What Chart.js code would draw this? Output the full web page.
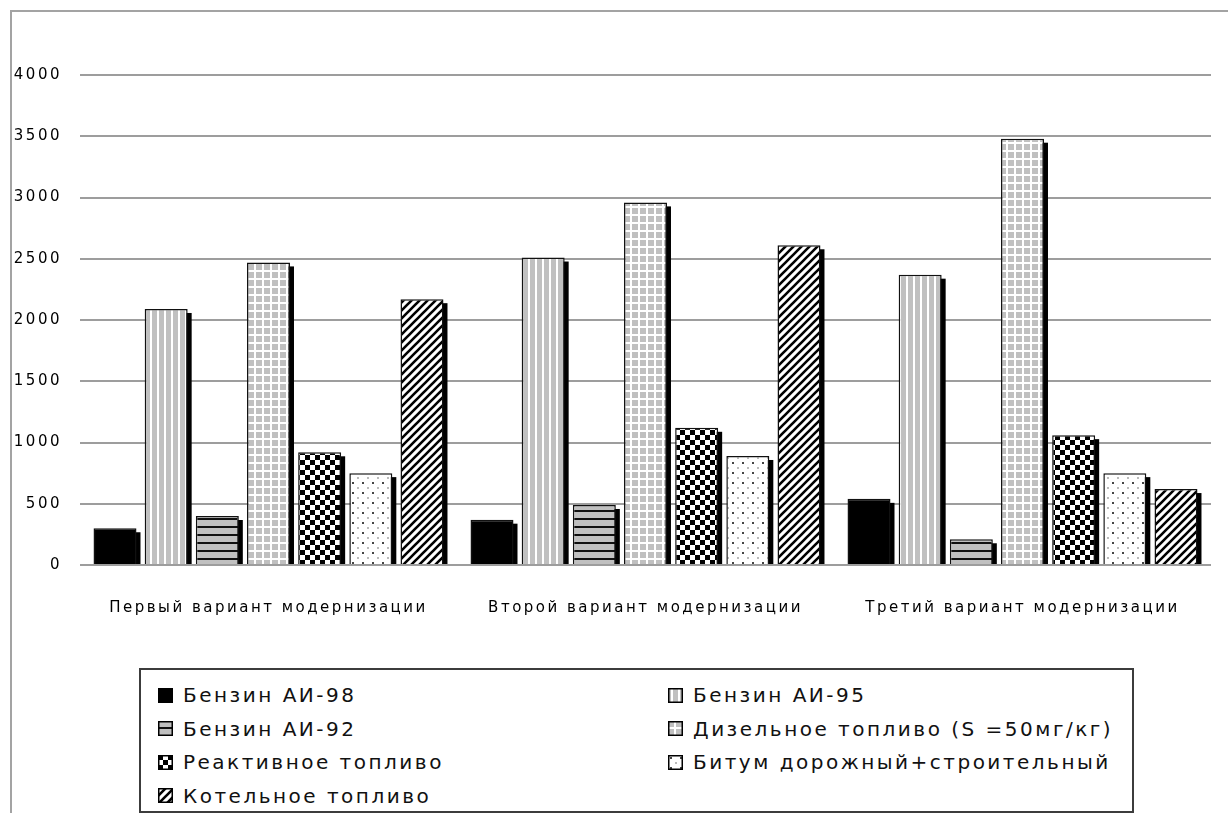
<!DOCTYPE html>
<html>
<head>
<meta charset="utf-8">
<script src="https://cdn.jsdelivr.net/npm/chart.js@4.4.1/dist/chart.umd.min.js"></script>
<style>
  html, body { margin: 0; padding: 0; background: #fff; overflow: hidden; }
  #frame { position: absolute; left: 10px; top: 10px; width: 1300px; height: 900px;
           border-top: 2px solid #a3a3a3; border-left: 2px solid #a3a3a3; }
  #chart { position: absolute; left: 0; top: 0; }
  #legend { position: absolute; left: 139px; top: 668px; width: 991px; height: 141px;
            border: 2px solid #3c3c3c; background: #fff; }
  .item { position: absolute; height: 30px; display: flex; align-items: center;
          font-family: "DejaVu Sans", sans-serif; font-size: 20px; letter-spacing: 2.5px; color: #111; }
  .item canvas { margin-right: 10px; }
</style>
</head>
<body>
<div id="frame"></div>
<canvas id="chart" width="1228" height="813"></canvas>
<div id="legend"></div>
<script>
const categories = ['Первый вариант модернизации', 'Второй вариант модернизации', 'Третий вариант модернизации'];
const seriesNames = [
  'Бензин АИ-98',
  'Бензин АИ-95',
  'Бензин АИ-92',
  'Дизельное топливо (S =50мг/кг)',
  'Реактивное топливо',
  'Битум дорожный+строительный',
  'Котельное топливо'
];
const ai98 = [300, 370, 540];
const ai95 = [2090, 2510, 2370];
const ai92 = [400, 490, 210];
const diesel = [2470, 2960, 3480];
const jetFuel = [920, 1120, 1060];
const bitumen = [750, 890, 750];
const boilerFuel = [2170, 2610, 620];
const yTicks = [0, 500, 1000, 1500, 2000, 2500, 3000, 3500, 4000];

const seriesValues = [ai98, ai95, ai92, diesel, jetFuel, bitumen, boilerFuel];
const patternKinds = ['solid', 'vstripe', 'hstripe', 'grid', 'check', 'dots', 'diag'];

// tiles for the black-and-white hatch fills
function makeTile(kind) {
  const t = document.createElement('canvas');
  const g = t.getContext('2d');
  const gray = '#c0c0c0';
  if (kind === 'solid') {
    t.width = t.height = 4; g.fillStyle = '#000'; g.fillRect(0, 0, 4, 4);
  } else if (kind === 'vstripe') {
    t.width = 7; t.height = 4;
    g.fillStyle = gray; g.fillRect(0, 0, 7, 4);
    g.fillStyle = '#fff'; g.fillRect(3, 0, 2, 4);
  } else if (kind === 'hstripe') {
    t.width = 4; t.height = 8;
    g.fillStyle = gray; g.fillRect(0, 0, 4, 8);
    g.fillStyle = '#111'; g.fillRect(0, 6, 4, 2);
  } else if (kind === 'grid') {
    t.width = t.height = 8;
    g.fillStyle = '#fff'; g.fillRect(0, 0, 8, 8);
    g.fillStyle = gray; g.fillRect(0, 0, 6, 6);
  } else if (kind === 'check') {
    t.width = t.height = 10;
    g.fillStyle = '#fff'; g.fillRect(0, 0, 10, 10);
    g.fillStyle = '#000'; g.fillRect(0, 0, 5, 5); g.fillRect(5, 5, 5, 5);
  } else if (kind === 'dots') {
    t.width = t.height = 10;
    g.fillStyle = '#fff'; g.fillRect(0, 0, 10, 10);
    g.fillStyle = '#444'; g.fillRect(2, 2, 2, 2);
    g.fillStyle = '#bbb'; g.fillRect(7, 7, 2, 2);
  } else if (kind === 'diag') {
    t.width = t.height = 8;
    g.fillStyle = '#fff'; g.fillRect(0, 0, 8, 8);
    g.strokeStyle = '#000'; g.lineWidth = 2.6;
    g.beginPath();
    g.moveTo(-2, 10); g.lineTo(10, -2);
    g.moveTo(-6, 6); g.lineTo(6, -6);
    g.moveTo(2, 14); g.lineTo(14, 2);
    g.stroke();
  }
  return t;
}

const ctx = document.getElementById('chart').getContext('2d');
const fills = patternKinds.map(k => ctx.createPattern(makeTile(k), 'repeat'));

// black drop shadow behind every bar, taken from the bar elements themselves
const barShadow = {
  id: 'barShadow',
  beforeDatasetsDraw(chart) {
    const c = chart.ctx;
    const off = 4;
    c.save();
    c.fillStyle = '#000';
    chart.getSortedVisibleDatasetMetas().forEach(meta => {
      meta.data.forEach(bar => {
        const p = bar.getProps(['x', 'y', 'base', 'width'], true);
        c.fillRect(p.x - p.width / 2 + off, p.y + off, p.width, p.base - p.y - off);
      });
    });
    c.restore();
  }
};

const spacing = {
  id: 'spacing',
  beforeUpdate(chart) { chart.ctx.letterSpacing = '2.5px'; },
  beforeDraw(chart) { chart.ctx.letterSpacing = '2.5px'; }
};

Chart.defaults.color = '#000';
Chart.defaults.font.family = '"DejaVu Sans", sans-serif';

new Chart(ctx, {
  type: 'bar',
  data: {
    labels: categories,
    datasets: seriesValues.map((vals, i) => ({
      label: seriesNames[i],
      data: vals,
      backgroundColor: fills[i],
      borderColor: '#111',
      borderWidth: 1.5,
      categoryPercentage: 0.95,
      barPercentage: 0.84
    }))
  },
  options: {
    responsive: false,
    animation: false,
    devicePixelRatio: 1,
    layout: { padding: { left: 0, top: 75, right: 17, bottom: 188 } },
    plugins: {
      legend: { display: false },
      tooltip: { enabled: false }
    },
    scales: {
      x: {
        grid: { display: false },
        border: { display: false },
        ticks: { font: { size: 15 }, padding: 26, maxRotation: 0 },
        afterFit(scale) { scale.height = 60; }
      },
      y: {
        min: 0,
        max: 4000,
        afterBuildTicks(scale) { scale.ticks = yTicks.map(v => ({ value: v })); },
        grid: { color: '#9d9d9d', lineWidth: 2, drawTicks: false },
        border: { display: false },
        ticks: { font: { size: 15 }, padding: 18, callback: v => String(v) },
        afterFit(scale) { scale.width = 80; }
      }
    }
  },
  plugins: [barShadow, spacing]
});

// legend in two columns, like the source
const legend = document.getElementById('legend');
seriesNames.forEach((name, i) => {
  const col = i % 2, row = Math.floor(i / 2);
  const item = document.createElement('div');
  item.className = 'item';
  item.style.left = (col === 0 ? 17 : 527) + 'px';
  item.style.top = (10 + row * 33.5) + 'px';
  const sw = document.createElement('canvas');
  sw.width = 15; sw.height = 15;
  const g = sw.getContext('2d');
  g.fillStyle = g.createPattern(makeTile(patternKinds[i]), 'repeat');
  g.fillRect(0, 0, 15, 15);
  g.strokeStyle = '#000'; g.lineWidth = 1.5;
  g.strokeRect(0.75, 0.75, 13.5, 13.5);
  item.appendChild(sw);
  const span = document.createElement('span');
  span.textContent = name;
  item.appendChild(span);
  legend.appendChild(item);
});
</script>
</body>
</html>
